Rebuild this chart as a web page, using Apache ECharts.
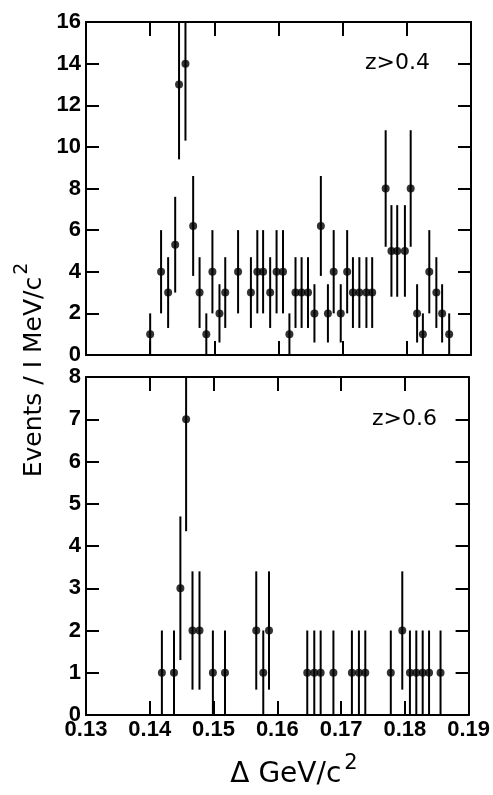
<!DOCTYPE html>
<html>
<head>
<meta charset="utf-8">
<script src="https://cdn.jsdelivr.net/npm/echarts@6/dist/echarts.min.js"></script>
<style>
html, body { margin: 0; padding: 0; background: #fff; }
#chart { width: 493px; height: 795px; }
</style>
</head>
<body>
<div id="chart"></div>
<script>
// mass difference in MeV/c^2, axis labels are shown in GeV/c^2
const xMin = 130
const xMax = 190

// upper panel, z > 0.4
const topMass = [140.0, 141.7, 142.8, 143.9, 144.5, 145.5, 146.7, 147.7, 148.75, 149.7, 150.8, 151.7, 153.7, 155.7, 156.7, 157.6, 158.7, 159.7, 160.7, 161.7, 162.65, 163.6, 164.6, 165.6, 166.6, 167.7, 168.6, 169.7, 170.7, 171.6, 172.6, 173.7, 174.6, 176.7, 177.6, 178.5, 179.7, 180.6, 181.6, 182.5, 183.5, 184.6, 185.5, 186.6]
const topEvents = [1, 4, 3, 5.3, 13, 14, 6.2, 3, 1, 4, 2, 3, 4, 3, 4, 4, 3, 4, 4, 1, 3, 3, 3, 2, 6.2, 2, 4, 2, 4, 3, 3, 3, 3, 8, 5, 5, 5, 8, 2, 1, 4, 3, 2, 1]
const topErr = [1, 2, 1.7, 2.3, 3.6, 3.7, 2.4, 1.7, 1, 2, 1.4, 1.7, 2, 1.7, 2, 2, 1.7, 2, 2, 1, 1.7, 1.7, 1.7, 1.4, 2.4, 1.4, 2, 1.4, 2, 1.7, 1.7, 1.7, 1.7, 2.8, 2.2, 2.2, 2.2, 2.8, 1.4, 1, 2, 1.7, 1.4, 1]

// lower panel, z > 0.6
const botMass = [141.9, 143.8, 144.8, 145.7, 146.7, 147.8, 149.9, 151.8, 156.7, 157.8, 158.7, 164.7, 165.8, 166.8, 168.8, 171.7, 172.8, 173.8, 177.8, 179.6, 180.8, 181.8, 182.8, 183.8, 185.6]
const botEvents = [1, 1, 3, 7, 2, 2, 1, 1, 2, 1, 2, 1, 1, 1, 1, 1, 1, 1, 1, 2, 1, 1, 1, 1, 1]
const botErr = [1, 1, 1.7, 2.65, 1.4, 1.4, 1, 1, 1.4, 1, 1.4, 1, 1, 1, 1, 1, 1, 1, 1, 1.4, 1, 1, 1, 1, 1]

const labelFont = "'Liberation Sans', sans-serif"
const titleFont = "'DejaVu Sans', sans-serif"

const chart = echarts.init(document.getElementById('chart'))

function xAxisDef(grid, pos, showLabels) {
    return {
        type: 'value', gridIndex: grid, position: pos,
        min: xMin, max: xMax, interval: 10,
        axisLine: { show: true, onZero: false, lineStyle: { color: '#000', width: 2 } },
        axisTick: { show: true, inside: true, length: 14, lineStyle: { color: '#000', width: 2 } },
        axisLabel: {
            show: showLabels, color: '#000', fontSize: 22, fontWeight: 'bold', fontFamily: labelFont, margin: 4,
            formatter: v => (v / 1000).toFixed(2)
        },
        splitLine: { show: false }
    }
}

function yAxisDef(grid, pos, max, step, showLabels) {
    return {
        type: 'value', gridIndex: grid, position: pos,
        min: 0, max: max, interval: step,
        axisLine: { show: true, onZero: false, lineStyle: { color: '#000', width: 2 } },
        axisTick: { show: true, inside: true, length: 13, lineStyle: { color: '#000', width: 2 } },
        axisLabel: { show: showLabels, color: '#000', fontSize: 22, fontWeight: 'bold', fontFamily: labelFont, margin: 5 },
        splitLine: { show: false }
    }
}

function errorBars(xi, yi, mass, events, err) {
    return {
        type: 'custom', xAxisIndex: xi, yAxisIndex: yi, clip: true, silent: true,
        data: mass.map((m, i) => [m, events[i] - err[i], events[i] + err[i]]),
        encode: { x: 0, y: [1, 2] },
        renderItem(params, api) {
            const lo = api.coord([api.value(0), api.value(1)])
            const hi = api.coord([api.value(0), api.value(2)])
            return {
                type: 'line',
                shape: { x1: lo[0], y1: lo[1], x2: hi[0], y2: hi[1] },
                style: { stroke: '#000', lineWidth: 2 }
            }
        }
    }
}

function points(xi, yi, mass, events) {
    return {
        type: 'scatter', xAxisIndex: xi, yAxisIndex: yi, silent: true,
        symbol: 'circle', symbolSize: 8,
        itemStyle: { color: '#000' },
        data: mass.map((m, i) => [m, events[i]])
    }
}

const option = {
    backgroundColor: '#fff',
    animation: false,
    grid: [
        { left: 86, right: 22, top: 22, height: 333 },
        { left: 86, right: 22, top: 377, height: 338 }
    ],
    xAxis: [
        xAxisDef(0, 'bottom', false),
        xAxisDef(0, 'top', false),
        xAxisDef(1, 'bottom', true),
        xAxisDef(1, 'top', false)
    ],
    yAxis: [
        yAxisDef(0, 'left', 16, 2, true),
        yAxisDef(0, 'right', 16, 2, false),
        yAxisDef(1, 'left', 8, 1, true),
        yAxisDef(1, 'right', 8, 1, false)
    ],
    series: [
        errorBars(0, 0, topMass, topEvents, topErr),
        points(0, 0, topMass, topEvents),
        errorBars(2, 2, botMass, botEvents, botErr),
        points(2, 2, botMass, botEvents)
    ],
    graphic: [
        {
            type: 'text', x: 365, y: 63,
            style: { text: 'z>0.4', fill: '#000', font: "22px 'DejaVu Sans', sans-serif", verticalAlign: 'middle' }
        },
        {
            type: 'text', x: 372, y: 419,
            style: { text: 'z>0.6', fill: '#000', font: "22px 'DejaVu Sans', sans-serif", verticalAlign: 'middle' }
        },
        {
            type: 'text', x: 30, y: 370, rotation: Math.PI / 2,
            style: {
                text: '{a|Events / I MeV/c}{s|2}',
                align: 'center', verticalAlign: 'middle',
                rich: {
                    a: { fontSize: 25, fontFamily: titleFont, fill: '#000', lineHeight: 34, verticalAlign: 'bottom' },
                    s: { fontSize: 19, fontFamily: titleFont, fill: '#000', lineHeight: 34, verticalAlign: 'top', padding: [0, 0, 0, 2] }
                }
            }
        },
        {
            type: 'text', x: 294, y: 771,
            style: {
                text: '{a|Δ GeV/c}{s|2}',
                align: 'center', verticalAlign: 'middle',
                rich: {
                    a: { fontSize: 28, fontFamily: titleFont, fill: '#000', lineHeight: 36, verticalAlign: 'bottom' },
                    s: { fontSize: 21, fontFamily: titleFont, fill: '#000', lineHeight: 36, verticalAlign: 'top', padding: [0, 0, 0, 3] }
                }
            }
        }
    ]
}

chart.setOption(option)
</script>
</body>
</html>
